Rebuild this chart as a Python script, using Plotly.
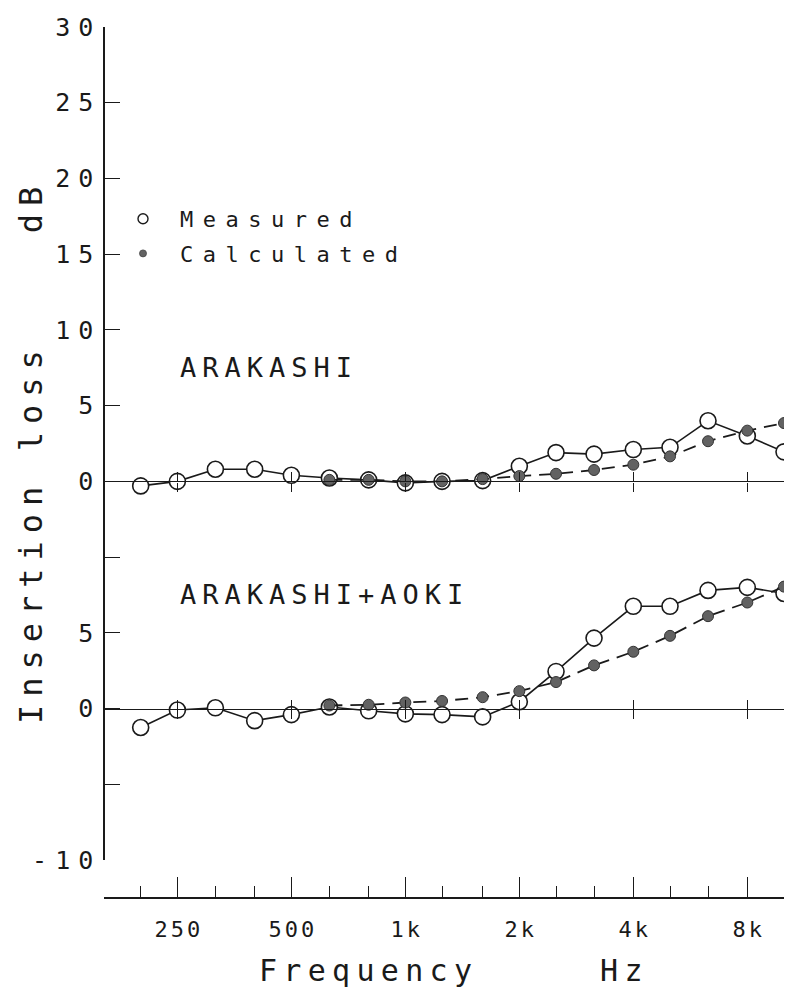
import math
import plotly.graph_objects as go

# ---- data (1/3-octave band centre frequencies, Hz) ----
freqs = [200, 250, 315, 400, 500, 630, 800, 1000, 1250, 1600,
         2000, 2500, 3150, 4000, 5000, 6300, 8000, 10000]
calc_freqs = [630, 800, 1000, 1250, 1600, 2000, 2500, 3150, 4000,
              5000, 6300, 8000, 10000]

# ARAKASHI panel (dB)
top_measured = [-0.3, 0.0, 0.8, 0.8, 0.4, 0.22, 0.1, -0.1, 0.0, 0.05,
                1.0, 1.9, 1.8, 2.1, 2.25, 4.0, 3.0, 1.95]
top_calculated = [0.1, 0.1, 0.0, 0.0, 0.15, 0.35, 0.5, 0.75, 1.1,
                  1.65, 2.65, 3.35, 3.85]

# ARAKASHI+AOKI panel (dB)
bot_measured = [-1.25, -0.1, 0.05, -0.8, -0.4, 0.1, -0.15, -0.35, -0.4, -0.55,
                0.45, 2.45, 4.65, 6.75, 6.75, 7.8, 8.0, 7.6]
bot_calculated = [0.2, 0.25, 0.4, 0.5, 0.75, 1.15, 1.75, 2.85, 3.75,
                  4.8, 6.1, 7.0, 8.05]

panel_names = ["ARAKASHI", "ARAKASHI+AOKI"]
panel_offsets = [15, 0]          # vertical offset of each panel's 0 dB line

major_ticks = [250, 500, 1000, 2000, 4000, 8000]
major_labels = ["250", "500", "1k", "2k", "4k", "8k"]
minor_ticks = [160, 200, 315, 400, 630, 800, 1250, 1600, 2500, 3150,
               5000, 6300, 10000]

y_tickvals = [-10, -5, 0, 5, 10, 15, 20, 25, 30, 35, 40, 45]
y_ticktext = ["-10", "", "0", "5", "", "0", "5", "10", "15", "20", "25", "30"]

# ---- styling / geometry ----
FONT = "DejaVu Sans Mono"
INK = "#1a1a1a"
PAGE_OFF = 8                     # default body margin of the html page
W, H = 792 - PAGE_OFF, 1000 - PAGE_OFF
# plot frame in page pixels
PL, PR, PT, PB = 104, 784, 27, 898
ML, MR, MT, MB = PL - PAGE_OFF, W - (PR - PAGE_OFF), PT - PAGE_OFF, H - (PB - PAGE_OFF)
PW = W - ML - MR
PH = H - MT - MB
Y_BOTTOM_PX = 860                # page px of the -10 tick (end of y axis)
d0 = (PB - Y_BOTTOM_PX) / PH
YR = [-10, 45]


def px_x(page_x):
    return (page_x - PL) / PW


def px_y(page_y):
    return (PB - page_y) / PH


def ls(text, px):
    if len(text) <= 1:
        return text
    return f'<span style="letter-spacing:{px}px">{text[:-1]}</span>{text[-1]}'


def ypaper(v):
    return d0 + (v - YR[0]) / (YR[1] - YR[0]) * (1 - d0)


fig = go.Figure()

measured_sets = [top_measured, bot_measured]
calc_sets = [top_calculated, bot_calculated]

for vals, off in zip(measured_sets, panel_offsets):
    fig.add_trace(go.Scatter(
        x=freqs, y=[v + off for v in vals], mode="lines+markers",
        line=dict(color=INK, width=1.6),
        marker=dict(symbol="circle", size=16, color="white",
                    line=dict(color=INK, width=1.6)),
        showlegend=False, cliponaxis=False, hoverinfo="skip"))

for vals, off in zip(calc_sets, panel_offsets):
    fig.add_trace(go.Scatter(
        x=calc_freqs, y=[v + off for v in vals], mode="lines+markers",
        line=dict(color=INK, width=1.8, dash="13px,8px"),
        marker=dict(symbol="circle", size=11, color="#626262",
                    line=dict(color="#333333", width=1)),
        showlegend=False, cliponaxis=False, hoverinfo="skip"))

# legend-only entries
fig.add_trace(go.Scatter(
    x=[None], y=[None], mode="markers", name=ls("Measured", 9.5),
    legendgroup="m",
    marker=dict(symbol="circle", size=10, color="white",
                line=dict(color=INK, width=1.4))))
fig.add_trace(go.Scatter(
    x=[None], y=[None], mode="markers", name=ls("Calculated", 9.5),
    legendgroup="c",
    marker=dict(symbol="circle", size=7, color="#626262",
                line=dict(color="#444444", width=0.8))))

# carrier traces for the zero-line axes
for ax in ["x2", "x3", "x4", "x5"]:
    fig.add_trace(go.Scatter(x=[], y=[], xaxis=ax, yaxis="y",
                             showlegend=False, hoverinfo="skip"))

xr = [math.log10(160), math.log10(10000)]

fig.update_layout(
    width=W, height=H, autosize=False,
    margin=dict(l=ML, r=MR, t=MT, b=MB, autoexpand=False),
    paper_bgcolor="white", plot_bgcolor="white",
    font=dict(family=FONT, color=INK),
    showlegend=True,
    legend=dict(x=px_x(106), xanchor="left", y=px_y(198), yanchor="top",
                xref="paper", yref="paper",
                font=dict(family=FONT, size=22, color=INK),
                itemwidth=64, tracegroupgap=3, bgcolor="rgba(0,0,0,0)"),
    xaxis=dict(type="log", range=xr, domain=[0, 1], anchor="free", position=0,
               showline=True, linecolor=INK, linewidth=1.5,
               showgrid=False, zeroline=False,
               ticks="inside", ticklen=20, tickwidth=1.3, tickcolor=INK,
               tickmode="array", tickvals=major_ticks,
               ticktext=[ls(t, 3) for t in major_labels],
               tickfont=dict(family=FONT, size=22, color=INK),
               ticklabelstandoff=12,
               minor=dict(tickmode="array", tickvals=minor_ticks,
                          ticks="inside", ticklen=11, tickwidth=1.3,
                          tickcolor=INK, showgrid=False)),
    yaxis=dict(range=YR, domain=[d0, 1], anchor="free", position=0,
               showline=True, linecolor=INK, linewidth=1.5,
               showgrid=False, zeroline=False,
               ticks="inside", ticklen=15, tickwidth=1.3, tickcolor=INK,
               tickmode="array", tickvals=y_tickvals,
               ticktext=[ls(t, 8) for t in y_ticktext],
               tickfont=dict(family=FONT, size=25, color=INK),
               ticklabelstandoff=5),
)

for name, off in zip(["xaxis2", "xaxis4"], panel_offsets):
    fig.layout[name] = dict(type="log", overlaying="x", matches="x",
                            anchor="free", position=ypaper(off),
                            showline=True, linecolor=INK, linewidth=1.4,
                            showgrid=False, zeroline=False,
                            ticks="outside", ticklen=9, tickwidth=1.3,
                            tickcolor=INK, tickmode="array",
                            tickvals=major_ticks, showticklabels=False)
for name, off in zip(["xaxis3", "xaxis5"], panel_offsets):
    fig.layout[name] = dict(type="log", overlaying="x", matches="x",
                            anchor="free", position=ypaper(off),
                            showline=False, showgrid=False, zeroline=False,
                            ticks="inside", ticklen=9, tickwidth=1.3,
                            tickcolor=INK, tickmode="array",
                            tickvals=major_ticks, showticklabels=False)

# panel labels
for name, off in zip(panel_names, panel_offsets):
    fig.add_annotation(text=ls(name, 6), xref="paper", yref="y",
                       x=px_x(178), y=off + 7.5,
                       xanchor="left", yanchor="middle", showarrow=False,
                       font=dict(family=FONT, size=27, color=INK))

# axis titles
fig.add_annotation(text=ls("Frequency     Hz", 6.3), xref="paper", yref="paper",
                   x=px_x(451), y=px_y(970),
                   xanchor="center", yanchor="middle", showarrow=False,
                   font=dict(family=FONT, size=30, color=INK))
fig.add_annotation(text=ls("Insertion loss    dB", 8.0), xref="paper", yref="paper",
                   x=px_x(31), y=px_y(456),
                   xanchor="center", yanchor="middle", textangle=-90,
                   showarrow=False,
                   font=dict(family=FONT, size=32, color=INK))

fig.write_html("out.html")
